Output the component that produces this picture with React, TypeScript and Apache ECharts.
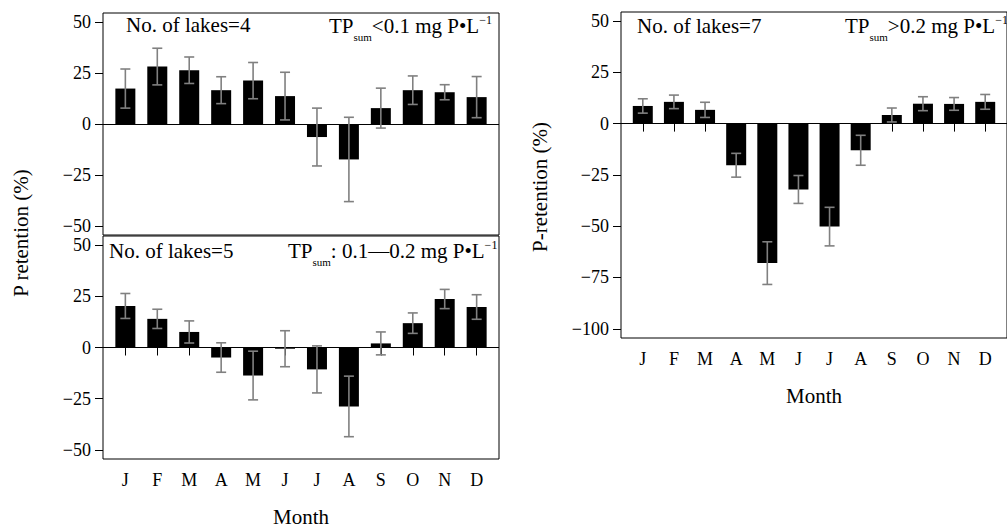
import React, { useEffect, useRef } from "react";
import * as echarts from "echarts";

const months = ["J", "F", "M", "A", "M", "J", "J", "A", "S", "O", "N", "D"];
const monthPos = [1, 2, 3, 4, 5, 6, 7, 8, 9, 10, 11, 12];
const yTicksSmall = [-50, -25, 0, 25, 50];
const yTicksLarge = [-100, -75, -50, -25, 0, 25, 50];

// TPsum < 0.1 mg P/L (4 lakes)
const lowMean = [17.4, 28.2, 26.4, 16.6, 21.3, 13.7, -6.4, -17.4, 7.8, 16.6, 15.6, 13.2];
const lowErr = [9.6, 9.0, 6.5, 6.6, 8.9, 11.7, 14.2, 20.7, 9.8, 7.0, 3.7, 10.1];
// TPsum 0.1-0.2 mg P/L (5 lakes)
const midMean = [20.3, 14.0, 7.6, -4.9, -13.7, -0.6, -10.7, -28.8, 2.0, 11.9, 23.7, 19.8];
const midErr = [6.1, 4.7, 5.4, 7.2, 11.9, 8.8, 11.5, 14.8, 5.6, 5.0, 4.7, 6.0];
// TPsum > 0.2 mg P/L (7 lakes)
const highMean = [8.6, 10.6, 6.7, -20.3, -68.0, -32.1, -50.2, -13.0, 4.2, 9.7, 9.6, 10.6];
const highErr = [3.5, 3.3, 3.7, 5.8, 10.4, 6.8, 9.4, 7.3, 3.4, 3.4, 3.1, 3.6];

const lakeLabels = ["No. of lakes=4", "No. of lakes=5", "No. of lakes=7"];
const tpLabels = ["<0.1 mg P\u2022L", ": 0.1\u20140.2 mg P\u2022L", ">0.2 mg P\u2022L"];

const FF = "Liberation Serif";

function fmtTick(v: number) {
  return v < 0 ? "\u2212" + Math.abs(v) : String(v);
}

export default function App() {
  const ref = useRef<HTMLDivElement>(null);

  useEffect(() => {
    document.body.style.margin = "0";
    document.body.style.overflow = "hidden";
    if (!ref.current) return;
    const chart = echarts.init(ref.current, undefined, { renderer: "svg" });

    const grids = [
      { left: 103, top: 13, width: 396, height: 222 },
      { left: 103, top: 236, width: 396, height: 224 },
      { left: 621, top: 12, width: 395, height: 326 },
    ];
    const yRanges = [
      { min: -54.5, max: 54.5, ticks: yTicksSmall },
      { min: -54.5, max: 54.5, ticks: yTicksSmall },
      { min: -104.5, max: 54.4, ticks: yTicksLarge },
    ];
    const means = [lowMean, midMean, highMean];
    const errs = [lowErr, midErr, highErr];

    const series: any[] = [];
    means.forEach((m, i) => {
      series.push({
        type: "bar",
        xAxisIndex: i,
        yAxisIndex: i,
        barWidth: 20,
        itemStyle: { color: "#000" },
        data: monthPos.map((x, k) => [x, m[k]]),
        markLine: {
          silent: true,
          symbol: "none",
          label: { show: false },
          lineStyle: { color: "#000", width: 1, type: "solid" },
          data: [{ yAxis: 0 }],
        },
        z: 2,
      });
      series.push({
        type: "custom",
        xAxisIndex: i,
        yAxisIndex: i,
        z: 5,
        encode: { x: 0, y: [1, 2] },
        data: monthPos.map((x, k) => [x, m[k] - errs[i][k], m[k] + errs[i][k]]),
        renderItem: (params: any, api: any) => {
          const x = api.value(0);
          const lo = api.coord([x, api.value(1)]);
          const hi = api.coord([x, api.value(2)]);
          const st = { stroke: "#808080", lineWidth: 1.6 };
          return {
            type: "group",
            children: [
              { type: "line", shape: { x1: hi[0], y1: hi[1], x2: lo[0], y2: lo[1] }, style: st },
              { type: "line", shape: { x1: hi[0] - 5, y1: hi[1], x2: hi[0] + 5, y2: hi[1] }, style: st },
              { type: "line", shape: { x1: lo[0] - 5, y1: lo[1], x2: lo[0] + 5, y2: lo[1] }, style: st },
            ],
          };
        },
      });
    });

    const richBase = {
      m: { fontSize: 21, fontFamily: FF, color: "#000" },
      s: { fontSize: 11, fontFamily: FF, color: "#000", padding: [22, 0, 0, 0] },
      p: { fontSize: 12, fontFamily: FF, color: "#000", padding: [0, 0, 12, 0] },
    };

    const lakePos = [
      [126, 25],
      [109, 251],
      [637, 26],
    ];
    const tpPos = [
      [329, 26],
      [288, 251],
      [845, 26],
    ];

    const graphics: any[] = [
      {
        type: "text",
        x: 21,
        y: 233,
        rotation: Math.PI / 2,
        style: {
          text: "P retention (%)",
          fontSize: 21,
          fontFamily: FF,
          fill: "#000",
          align: "center",
          verticalAlign: "middle",
        },
      },
      {
        type: "text",
        x: 540,
        y: 187,
        rotation: Math.PI / 2,
        style: {
          text: "P-retention (%)",
          fontSize: 21,
          fontFamily: FF,
          fill: "#000",
          align: "center",
          verticalAlign: "middle",
        },
      },
    ];
    lakeLabels.forEach((t, i) => {
      graphics.push({
        type: "text",
        x: lakePos[i][0],
        y: lakePos[i][1],
        z: 10,
        style: {
          text: t,
          fontSize: 21,
          fontFamily: FF,
          fill: "#000",
          align: "left",
          verticalAlign: "middle",
        },
      });
      graphics.push({
        type: "text",
        x: tpPos[i][0],
        y: tpPos[i][1],
        z: 10,
        style: {
          text: `{m|TP}{s|sum}{m|${tpLabels[i]}}{p|\u22121}`,
          rich: richBase,
          align: "left",
          verticalAlign: "middle",
        },
      });
    });

    const option: any = {
      animation: false,
      backgroundColor: "#fff",
      textStyle: { fontFamily: FF },
      grid: grids.map((g) => ({
        ...g,
        show: true,
        borderColor: "#000",
        borderWidth: 1,
        backgroundColor: "transparent",
      })),
      xAxis: grids.map((_, i) => ({
        gridIndex: i,
        type: "value",
        min: 0.3,
        max: 12.7,
        splitLine: { show: false },
        axisLine: { show: false },
        axisTick: {
          show: i > 0,
          customValues: monthPos,
          length: 8,
          lineStyle: { color: "#000", width: 1 },
        },
        axisLabel: {
          show: i > 0,
          customValues: monthPos,
          formatter: (v: number) => months[Math.round(v) - 1] || "",
          fontSize: 18,
          fontFamily: FF,
          color: "#000",
          margin: 12,
        },
        name: i > 0 ? "Month" : "",
        nameLocation: "middle",
        nameGap: 47,
        nameTextStyle: { fontSize: 21, fontFamily: FF, color: "#000" },
      })),
      yAxis: grids.map((_, i) => ({
        gridIndex: i,
        type: "value",
        min: yRanges[i].min,
        max: yRanges[i].max,
        splitLine: { show: false },
        axisLine: { show: false },
        axisTick: {
          show: true,
          customValues: yRanges[i].ticks,
          length: 8,
          lineStyle: { color: "#000", width: 1 },
        },
        axisLabel: {
          customValues: yRanges[i].ticks,
          formatter: (v: number) => fmtTick(v),
          fontSize: 18,
          fontFamily: FF,
          color: "#000",
          margin: 12,
        },
      })),
      series,
      graphic: graphics,
    };

    chart.setOption(option);
    return () => chart.dispose();
  }, []);

  return <div ref={ref} style={{ width: 1007, height: 528 }} />;
}
